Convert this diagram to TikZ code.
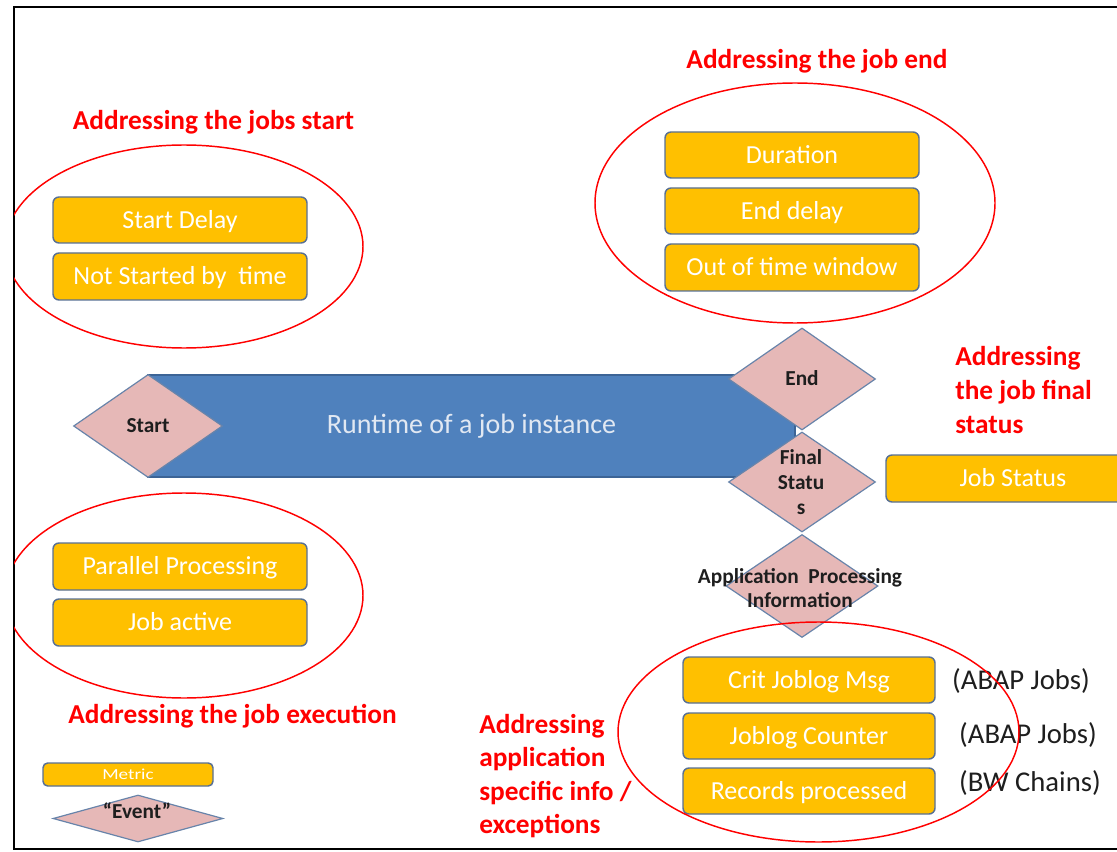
\documentclass[tikz,border=0pt]{standalone}
\usepackage{fontspec}
\setmainfont{Carlito}
\usetikzlibrary{shapes.geometric}
\definecolor{boxfill}{RGB}{255,192,0}
\definecolor{boxline}{RGB}{88,112,148}
\definecolor{evfill}{RGB}{230,184,183}
\definecolor{evline}{RGB}{104,132,170}
\definecolor{runfill}{RGB}{79,129,189}
\definecolor{runline}{RGB}{60,100,150}
\definecolor{runtext}{RGB}{225,232,242}
\definecolor{dark}{RGB}{30,30,30}
\begin{document}
\begin{tikzpicture}[x=0.75pt,y=-0.75pt,
  sz/.style 2 args={minimum width=#1*0.75pt, minimum height=#2*0.75pt},
  metric/.style={draw=boxline, fill=boxfill, line width=1.1pt, rounded corners=4.5pt,
    text=white, font=\fontsize{19.5}{23}\selectfont, inner sep=0pt,
    text height=12.5pt, text depth=0pt},
  event/.style={diamond, draw=evline, fill=evfill, line width=0.9pt, inner sep=0pt},
  evtext/.style={text=dark, font=\bfseries\fontsize{16}{19}\selectfont, inner sep=0pt, align=center},
  evone/.style={evtext, text height=10.3pt, text depth=0pt},
  zone/.style={ellipse, draw=red, line width=1.1pt, inner sep=0pt},
  heading/.style={text=red, font=\bfseries\fontsize{20.5}{25.5}\selectfont, inner sep=0pt},
  note/.style={text=dark, font=\fontsize{21.5}{25}\selectfont, inner sep=0pt}
]
\useasboundingbox (0,0) rectangle (1117,852);
\clip (0,0) rectangle (1117,852);

% frame
\draw[line width=1.5pt] (1117,7) -- (14,7) -- (14,849) -- (1117,849);

% runtime bar
\node[draw=runline, fill=runfill, line width=0.9pt, sz={647}{102}, inner sep=0pt,
  text=runtext, font=\fontsize{21}{24}\selectfont] (runtime) at (471.5,426) {Runtime of a job instance};

% events
\node[event, sz={149}{103}] (start) at (148,426) {};
\node[evone] (starttxt) at (start) {Start};
\node[event, sz={147}{102}] (end) at (802,379) {};
\node[evone] (endtxt) at (end) {End};
\node[event, sz={147}{100}] (final) at (802,482) {};
\node[evtext] (finaltxt) at (801,482) {Final\\Statu\\s};
\node[event, sz={152}{103}] (app) at (802,586) {};
\node[evtext, font=\bfseries\fontsize{16}{18}\selectfont] (apptxt) at (800,588) {Application\ \ Processing\\Information};

% metrics: job start
\node[metric, sz={254}{46}] (startdelay) at (180,220) {Start Delay};
\node[metric, sz={254}{47}] (notstarted) at (180,276.5) {Not Started by\ \ time};
% metrics: job execution
\node[metric, sz={254}{47}] (parallel) at (180,566.5) {Parallel Processing};
\node[metric, sz={254}{47}] (active) at (180,622.5) {Job active};
% metrics: job end
\node[metric, sz={254}{46}] (duration) at (792,155) {Duration};
\node[metric, sz={254}{46}] (enddelay) at (792,211) {End delay};
\node[metric, sz={254}{47}] (outwindow) at (792,267.5) {Out of time window};
% metric: final status
\node[metric, sz={254}{47}] (jobstatus) at (1013,478.5) {Job Status};
% metrics: application info
\node[metric, sz={252}{46}] (critmsg) at (809,680) {Crit Joblog Msg};
\node[metric, sz={252}{46}] (counter) at (809,736) {Joblog Counter};
\node[metric, sz={252}{46}] (records) at (809,791) {Records processed};

% notes
\node[note] (n1) at (1021,681) {(ABAP Jobs)};
\node[note] (n2) at (1028,735) {(ABAP Jobs)};
\node[note] (n3) at (1030,783) {(BW Chains)};

% headings
\node[heading, anchor=base] (hstart) at (213.5,130) {Addressing the jobs start};
\node[heading, anchor=base] (hend) at (817,69) {Addressing the job end};
\node[heading, anchor=base] (hexec) at (232.5,723) {Addressing the job execution};
\node[heading, anchor=north west, align=left] (hfinal) at (955,346) {Addressing\\the job final\\status};
\node[heading, anchor=north west, align=left, font=\bfseries\fontsize{20.5}{25}\selectfont] (happ) at (479,714) {Addressing\\application\\specific info /\\exceptions};

% legend
\node[metric, sz={170}{23}, rounded corners=3.5pt, font=\fontsize{11.5}{13}\selectfont, text height=7.4pt] (legmetric) at (128,774.5) {\scalebox{1.25}[1]{Metric}};
\node[event, sz={170}{47}] (legevent) at (138,818.5) {};
\node[evone] (legeventtxt) at (137,812) {“Event”};

% zones
\begin{scope}
\clip (14,0) rectangle (1117,852);
\node[zone, sz={358}{203}] (zonestart) at (184,246.5) {};
\node[zone, sz={358}{205}] (zoneexec) at (184,595.5) {};
\end{scope}
\node[zone, sz={400}{240}] (zoneend) at (795,203) {};
\node[zone, sz={401}{220}] (zoneapp) at (818.5,732) {};
\end{tikzpicture}
\end{document}
